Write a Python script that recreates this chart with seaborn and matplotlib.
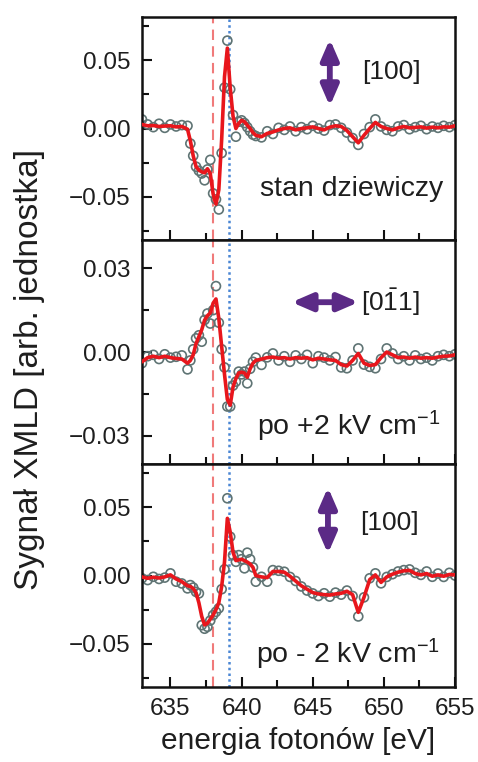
import matplotlib
matplotlib.use("Agg")
import matplotlib.pyplot as plt
from matplotlib.ticker import FixedLocator, MultipleLocator
import numpy as np
import pandas as pd
import seaborn as sns

# Photon energy grid (eV): coarse steps away from the edge, fine steps across it
energy = [
    633.0, 633.4, 633.8, 634.2, 634.6, 635.0, 635.4, 635.8,
    636.2, 636.4, 636.6, 636.8, 637.0, 637.2, 637.4, 637.6, 637.8, 638.0,
    638.2, 638.4, 638.6, 638.8, 639.0, 639.2, 639.4, 639.6, 639.8, 640.0,
    640.2, 640.4, 640.6, 640.8, 641.0,
    641.4, 641.8, 642.2, 642.6, 643.0, 643.4, 643.8, 644.2, 644.6, 645.0,
    645.4, 645.8, 646.2, 646.6, 647.0, 647.4, 647.8, 648.2, 648.6, 649.0,
    649.4, 649.8, 650.2, 650.6, 651.0, 651.4, 651.8, 652.2, 652.6, 653.0,
    653.4, 653.8, 654.2, 654.6, 655.0,
]

# Pristine state: measured XMLD points and smoothed curve
virgin_pts = [
    0.0067, 0.0030, 0.0010, 0.0035, 0.0005, 0.0030, 0.0015, 0.0025,
    0.0020, -0.0110, -0.0200, -0.0280, -0.0310, -0.0330, -0.0380, -0.0300, -0.0230, -0.0476,
    -0.0520, -0.0594, -0.0180, 0.0300, 0.0645, 0.0288, 0.0099, -0.0060, 0.0050, 0.0060,
    0.0040, 0.0010, -0.0020, -0.0045, -0.0055,
    -0.0065, -0.0020, -0.0040, 0.0005, -0.0010, 0.0015, -0.0020, 0.0010, -0.0005, 0.0020,
    0.0000, -0.0015, 0.0025, 0.0030, 0.0005, -0.0030, -0.0070, -0.0120, -0.0040, 0.0010,
    0.0067, 0.0015, -0.0010, -0.0020, 0.0015, 0.0025, -0.0005, 0.0010, 0.0020, -0.0005,
    0.0015, 0.0005, 0.0020, 0.0010, 0.0025,
]
virgin_fit = [
    0.0030, 0.0020, 0.0022, 0.0015, 0.0018, 0.0020, 0.0012, 0.0015,
    -0.0005, -0.0090, -0.0200, -0.0280, -0.0305, -0.0318, -0.0325, -0.0295, -0.0330, -0.0480,
    -0.0555, -0.0450, -0.0080, 0.0380, 0.0590, 0.0300, 0.0090, 0.0000, 0.0038, 0.0060,
    0.0050, 0.0025, 0.0000, -0.0030, -0.0050,
    -0.0060, -0.0036, -0.0025, -0.0010, 0.0000, 0.0005, -0.0010, 0.0000, 0.0005, 0.0012,
    0.0000, -0.0010, 0.0010, 0.0020, 0.0015, -0.0015, -0.0060, -0.0105, -0.0050, 0.0000,
    0.0045, 0.0015, 0.0000, -0.0010, 0.0005, 0.0015, 0.0005, 0.0008, 0.0012, 0.0003,
    0.0010, 0.0005, 0.0012, 0.0010, 0.0020,
]

# After +2 kV/cm
plus_pts = [
    -0.0040, -0.0015, -0.0010, -0.0025, -0.0008, -0.0020, -0.0017, -0.0012,
    -0.0062, -0.0030, 0.0010, 0.0049, 0.0060, 0.0037, 0.0115, 0.0138, 0.0102, 0.0150,
    0.0236, 0.0105, 0.0010, -0.0055, -0.0195, -0.0195, -0.0120, -0.0106, -0.0070, -0.0080,
    -0.0070, -0.0112, -0.0060, -0.0035, -0.0020,
    -0.0046, -0.0019, -0.0005, -0.0030, -0.0015, -0.0035, -0.0012, -0.0025, -0.0010, -0.0040,
    -0.0015, -0.0020, -0.0030, -0.0018, -0.0055, -0.0058, -0.0030, 0.0013, -0.0045, -0.0053,
    -0.0058, -0.0025, 0.0013, -0.0005, -0.0025, -0.0015, -0.0030, -0.0012, -0.0025, -0.0020,
    -0.0030, -0.0015, -0.0010, -0.0015, -0.0008,
]
plus_fit = [
    -0.0035, -0.0020, -0.0015, -0.0020, -0.0015, -0.0020, -0.0023, -0.0025,
    -0.0040, -0.0030, -0.0010, 0.0030, 0.0055, 0.0080, 0.0114, 0.0130, 0.0140, 0.0175,
    0.0190, 0.0120, 0.0020, -0.0080, -0.0170, -0.0190, -0.0125, -0.0095, -0.0075, -0.0072,
    -0.0075, -0.0090, -0.0060, -0.0040, -0.0030,
    -0.0025, -0.0020, -0.0018, -0.0022, -0.0020, -0.0025, -0.0020, -0.0022, -0.0020, -0.0028,
    -0.0022, -0.0025, -0.0028, -0.0030, -0.0045, -0.0050, -0.0030, -0.0005, -0.0040, -0.0048,
    -0.0045, -0.0020, 0.0000, -0.0010, -0.0020, -0.0018, -0.0022, -0.0018, -0.0022, -0.0020,
    -0.0022, -0.0018, -0.0015, -0.0014, -0.0010,
]

# After -2 kV/cm
minus_pts = [
    -0.0020, -0.0033, -0.0009, -0.0025, -0.0015, 0.0016, -0.0045, -0.0058,
    -0.0094, -0.0070, -0.0088, -0.0120, -0.0131, -0.0364, -0.0390, -0.0376, -0.0330, -0.0290,
    -0.0266, -0.0240, -0.0100, 0.0046, 0.0567, 0.0285, 0.0150, 0.0101, 0.0150, 0.0120,
    0.0053, 0.0168, 0.0120, 0.0060, -0.0045,
    -0.0009, -0.0045, 0.0040, 0.0035, 0.0028, -0.0010, -0.0040, -0.0080, -0.0110, -0.0131,
    -0.0150, -0.0130, -0.0155, -0.0125, -0.0140, -0.0110, -0.0150, -0.0300, -0.0160, -0.0020,
    0.0016, -0.0057, -0.0010, 0.0010, 0.0030, 0.0040, 0.0045, 0.0020, 0.0005, 0.0030,
    -0.0009, 0.0015, -0.0010, 0.0020, 0.0000,
]
minus_fit = [
    -0.0010, -0.0020, -0.0012, -0.0018, -0.0010, 0.0005, -0.0025, -0.0045,
    -0.0075, -0.0080, -0.0095, -0.0125, -0.0200, -0.0300, -0.0362, -0.0350, -0.0320, -0.0290,
    -0.0250, -0.0200, -0.0080, 0.0100, 0.0420, 0.0320, 0.0170, 0.0110, 0.0115, 0.0120,
    0.0110, 0.0099, 0.0085, 0.0060, 0.0000,
    -0.0010, -0.0015, 0.0030, 0.0030, 0.0025, -0.0005, -0.0040, -0.0075, -0.0100, -0.0125,
    -0.0135, -0.0140, -0.0143, -0.0135, -0.0130, -0.0115, -0.0140, -0.0270, -0.0160, -0.0030,
    0.0005, -0.0050, -0.0010, 0.0010, 0.0025, 0.0035, 0.0038, 0.0015, 0.0005, 0.0015,
    -0.0005, 0.0005, -0.0005, 0.0008, 0.0005,
]

# Reference energies of the two edge features (eV)
edge_dashed = 638.0
edge_dotted = 639.1

state_labels = ["stan dziewiczy", "po +2 kV cm$^{-1}$", "po - 2 kV cm$^{-1}$"]
axis_labels = ["[100]", r"[0$\bar{1}$1]", "[100]"]
ytick_sets = [[-0.05, 0.00, 0.05], [-0.03, 0.00, 0.03], [-0.05, 0.00, 0.05]]
yminor_steps = [0.025, 0.015, 0.025]
ylims = [(-0.082, 0.082), (-0.040, 0.040), (-0.082, 0.082)]
xticks = [635, 640, 645, 650, 655]

sns.set_theme(style="ticks")
plt.rcParams["font.family"] = ["Liberation Sans", "DejaVu Sans"]
plt.rcParams["mathtext.fontset"] = "custom"
plt.rcParams["mathtext.rm"] = "Liberation Sans"
plt.rcParams["mathtext.it"] = "Liberation Sans:italic"
plt.rcParams["mathtext.default"] = "regular"
plt.rcParams["axes.unicode_minus"] = True

fig, axes = plt.subplots(3, 1, sharex=True, figsize=(4.78, 7.62), dpi=100)
fig.subplots_adjust(left=0.297, right=0.952, top=0.978, bottom=0.098, hspace=0)

series = [(virgin_pts, virgin_fit), (plus_pts, plus_fit), (minus_pts, minus_fit)]
arrow_color = "#5b2a86"
text_color = "#1e1e1e"
arrow_style = "<|-|>,head_length=0.6,head_width=0.26"

for i, ax in enumerate(axes):
    pts, fit = series[i]
    df = pd.DataFrame({"E": energy, "pts": pts, "fit": fit})

    ax.axvline(edge_dashed, color="#f07a7a", lw=1.5, ls=(0, (5, 3)), zorder=1)
    ax.axvline(edge_dotted, color="#4a86d4", lw=1.8, ls=(0, (1, 1.3)), zorder=1)

    sns.scatterplot(data=df, x="E", y="pts", ax=ax, marker="o", s=42,
                    facecolor="none", edgecolor="#5f7474", linewidth=1.2, zorder=2)
    sns.lineplot(data=df, x="E", y="fit", ax=ax, color="#e8161c", lw=2.6,
                 zorder=3, sort=False)

    ax.set_xlim(633.0, 655.0)
    ax.set_ylim(*ylims[i])
    ax.yaxis.set_major_locator(FixedLocator(ytick_sets[i]))
    ax.yaxis.set_minor_locator(MultipleLocator(yminor_steps[i]))
    ax.xaxis.set_major_locator(FixedLocator(xticks))
    ax.xaxis.set_minor_locator(MultipleLocator(2.5))
    ax.tick_params(which="both", direction="in", left=True, bottom=True,
                   top=False, right=False, width=1.5, color="#111111")
    ax.tick_params(which="major", length=7, labelsize=17.5, pad=8,
                   labelcolor=text_color)
    ax.tick_params(which="minor", length=5)
    for sp in ax.spines.values():
        sp.set_linewidth(1.8)
        sp.set_color("#111111")
    ax.set_xlabel("")
    ax.set_ylabel("")

    ax.text(0.962 if i == 0 else 0.952, 0.228 if i == 0 else (0.168 if i == 1 else 0.146),
            state_labels[i], transform=ax.transAxes, ha="right", va="center",
            fontsize=20.5, color=text_color)

# Polarisation arrows and crystal directions
axes[0].annotate("", xy=(0.60, 0.900), xytext=(0.60, 0.600), xycoords="axes fraction",
                 arrowprops=dict(arrowstyle=arrow_style, color=arrow_color, lw=4.2,
                                 shrinkA=0, shrinkB=0, mutation_scale=20))
axes[0].text(0.703, 0.753, axis_labels[0], transform=axes[0].transAxes,
             ha="left", va="center", fontsize=19, color=text_color)

axes[1].annotate("", xy=(0.478, 0.723), xytext=(0.692, 0.723), xycoords="axes fraction",
                 arrowprops=dict(arrowstyle=arrow_style, color=arrow_color, lw=4.2,
                                 shrinkA=0, shrinkB=0, mutation_scale=20))
axes[1].text(0.700, 0.723, axis_labels[1], transform=axes[1].transAxes,
             ha="left", va="center", fontsize=19, color=text_color)

axes[2].annotate("", xy=(0.594, 0.895), xytext=(0.594, 0.598), xycoords="axes fraction",
                 arrowprops=dict(arrowstyle=arrow_style, color=arrow_color, lw=4.2,
                                 shrinkA=0, shrinkB=0, mutation_scale=20))
axes[2].text(0.696, 0.735, axis_labels[2], transform=axes[2].transAxes,
             ha="left", va="center", fontsize=19, color=text_color)

axes[2].set_xlabel("energia fotonów [eV]", fontsize=21.5, color=text_color, labelpad=5)
fig.text(0.062, 1 - 370 / 762, "Sygnał XMLD [arb. jednostka]", rotation=90,
         ha="center", va="center", fontsize=24, color=text_color)

fig.savefig("out.png", dpi=100)
